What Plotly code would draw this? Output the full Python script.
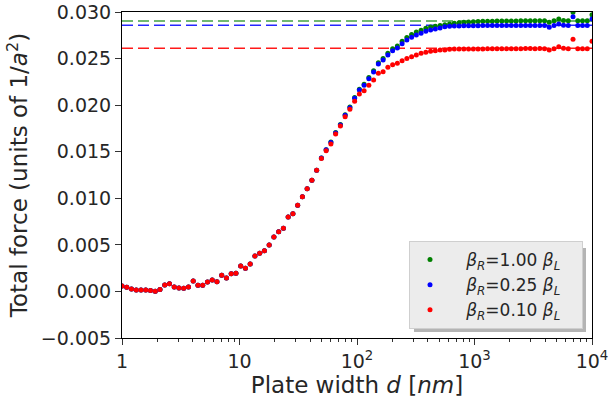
import numpy as np
import plotly.graph_objects as go

# Plate widths d [nm] sampled on a log grid, 1 .. 1e4 (100 points)
plate_width = np.logspace(0, 4, 100)

force_r100 = [
    0.00058, 0.00044, 0.00026, 0.00015, 0.00015, 0.00015, 0.00010, 0.00001, 0.00022, 0.00069,
    0.00083, 0.00047, 0.00036, 0.00033, 0.00047, 0.00112, 0.00065, 0.00065, 0.00100, 0.00122,
    0.00104, 0.00173, 0.00144, 0.00190, 0.00194, 0.00273, 0.00248, 0.00294, 0.00380, 0.00409,
    0.00437, 0.00498, 0.00584, 0.00641, 0.00677, 0.00799, 0.00834, 0.00924, 0.01017, 0.01103,
    0.01193, 0.01300, 0.01433, 0.01522, 0.01603, 0.01705, 0.01792, 0.01897, 0.01979, 0.02081,
    0.02171, 0.02223, 0.02296, 0.02370, 0.02456, 0.02501, 0.02557, 0.02605, 0.02636, 0.02686,
    0.02727, 0.02758, 0.02784, 0.02805, 0.02825, 0.02839, 0.02848, 0.02855, 0.02864, 0.02871,
    0.02878, 0.02885, 0.02889, 0.02893, 0.02896, 0.02898, 0.02900, 0.02901, 0.02902, 0.02903,
    0.02903, 0.02904, 0.02904, 0.02904, 0.02905, 0.02905, 0.02905, 0.02905, 0.02905, 0.02905,
    0.02889, 0.02905, 0.02924, 0.02908, 0.02905, 0.02997, 0.02905, 0.02905, 0.02905, 0.02970,
]

force_r025 = [
    0.00058, 0.00044, 0.00026, 0.00015, 0.00015, 0.00015, 0.00010, 0.00001, 0.00022, 0.00069,
    0.00083, 0.00047, 0.00036, 0.00033, 0.00047, 0.00112, 0.00065, 0.00065, 0.00100, 0.00122,
    0.00104, 0.00173, 0.00144, 0.00190, 0.00194, 0.00273, 0.00248, 0.00294, 0.00380, 0.00409,
    0.00437, 0.00498, 0.00584, 0.00641, 0.00677, 0.00799, 0.00834, 0.00924, 0.01017, 0.01103,
    0.01193, 0.01300, 0.01432, 0.01520, 0.01600, 0.01701, 0.01787, 0.01891, 0.01972, 0.02073,
    0.02162, 0.02213, 0.02284, 0.02356, 0.02441, 0.02484, 0.02538, 0.02584, 0.02613, 0.02660,
    0.02699, 0.02728, 0.02753, 0.02771, 0.02793, 0.02807, 0.02817, 0.02828, 0.02842, 0.02846,
    0.02850, 0.02851, 0.02852, 0.02853, 0.02853, 0.02853, 0.02854, 0.02854, 0.02854, 0.02854,
    0.02854, 0.02855, 0.02855, 0.02855, 0.02855, 0.02855, 0.02855, 0.02855, 0.02855, 0.02855,
    0.02835, 0.02855, 0.02870, 0.02858, 0.02855, 0.02949, 0.02855, 0.02855, 0.02855, 0.02925,
]

force_r010 = [
    0.00058, 0.00044, 0.00026, 0.00015, 0.00015, 0.00015, 0.00010, 0.00001, 0.00022, 0.00069,
    0.00083, 0.00047, 0.00036, 0.00033, 0.00047, 0.00112, 0.00065, 0.00065, 0.00100, 0.00122,
    0.00104, 0.00173, 0.00144, 0.00190, 0.00194, 0.00273, 0.00248, 0.00294, 0.00380, 0.00409,
    0.00437, 0.00498, 0.00584, 0.00641, 0.00677, 0.00799, 0.00834, 0.00924, 0.01017, 0.01103,
    0.01193, 0.01300, 0.01427, 0.01511, 0.01583, 0.01690, 0.01776, 0.01876, 0.01955, 0.02041,
    0.02119, 0.02155, 0.02213, 0.02270, 0.02342, 0.02359, 0.02406, 0.02434, 0.02449, 0.02477,
    0.02500, 0.02520, 0.02538, 0.02556, 0.02567, 0.02578, 0.02584, 0.02592, 0.02592, 0.02599,
    0.02602, 0.02602, 0.02603, 0.02603, 0.02604, 0.02604, 0.02604, 0.02605, 0.02605, 0.02605,
    0.02606, 0.02606, 0.02606, 0.02606, 0.02606, 0.02607, 0.02607, 0.02606, 0.02607, 0.02606,
    0.02592, 0.02606, 0.02627, 0.02610, 0.02605, 0.02707, 0.02606, 0.02606, 0.02606, 0.02685,
]

# Asymptotic (large-d) reference levels
asymptote_levels = [0.02903, 0.02857, 0.02610]
asymptote_x = [1, 10000]

series_names = [
    "<i>β</i><sub><i>R</i></sub>=1.00 <i>β</i><sub><i>L</i></sub>",
    "<i>β</i><sub><i>R</i></sub>=0.25 <i>β</i><sub><i>L</i></sub>",
    "<i>β</i><sub><i>R</i></sub>=0.10 <i>β</i><sub><i>L</i></sub>",
]
marker_colors = ["#008000", "#0000ff", "#ff0000"]
dash_colors = ["rgba(0,128,0,0.75)", "rgba(0,0,255,0.85)", "rgba(255,0,0,0.9)"]

x_tick_vals = [1, 10, 100, 1000, 10000]
x_tick_text = ["1", "10", "10<sup>2</sup>", "10<sup>3</sup>", "10<sup>4</sup>"]
y_tick_vals = [-0.005, 0.0, 0.005, 0.010, 0.015, 0.020, 0.025, 0.030]

NB = "\u00a0"

fig = go.Figure()

for lvl, col in zip(asymptote_levels, dash_colors):
    fig.add_trace(go.Scatter(
        x=asymptote_x, y=[lvl, lvl], mode="lines",
        line=dict(color=col, width=1.5, dash="11px,5px"),
        showlegend=False, hoverinfo="skip",
    ))

for ys, name, col in zip([force_r100, force_r025, force_r010], series_names, marker_colors):
    fig.add_trace(go.Scatter(
        x=plate_width, y=ys, mode="markers", name=NB * 3 + name + NB * 3,
        marker=dict(color=col, size=5, line=dict(width=0)),
        cliponaxis=True,
    ))

minor_vals = [m * 10 ** e for e in range(0, 4) for m in range(2, 10)]

font_family = "DejaVu Sans"
text_color = "#262626"

# plot-area pixel frame (for paper-coordinate conversion of the legend shadow)
PX0, PX1, PY0, PY1 = 122, 592, 12, 338


def px(xp):
    return (xp - PX0) / (PX1 - PX0)


def py(yp):
    return (PY1 - yp) / (PY1 - PY0)


fig.update_layout(
    width=609, height=399,
    margin=dict(l=122, r=17, t=12, b=61, autoexpand=False),
    paper_bgcolor="white", plot_bgcolor="white",
    font=dict(family=font_family, size=19, color=text_color),
    showlegend=True,
    legend=dict(
        x=px(583), y=py(329), xanchor="right", yanchor="bottom",
        bgcolor="#ececec", bordercolor="#cfcfcf", borderwidth=1,
        font=dict(size=17), itemsizing="trace", tracegroupgap=0,
    ),
    xaxis=dict(
        type="log", range=[0, 4], automargin=False,
        tickmode="array", tickvals=x_tick_vals, ticktext=x_tick_text,
        ticks="outside", ticklen=6, tickwidth=1, tickcolor="#333333",
        minor=dict(tickmode="array", tickvals=minor_vals, ticks="outside",
                   ticklen=3, tickwidth=1, tickcolor="#333333", showgrid=False),
        showgrid=False, zeroline=False,
        showline=True, linecolor="black", linewidth=1, mirror=True,
        title=dict(text="Plate width <i>d</i> [<i>nm</i>]", standoff=6),
    ),
    yaxis=dict(
        range=[-0.005, 0.030], automargin=False,
        tickmode="array", tickvals=y_tick_vals, tickformat=".3f",
        ticks="outside", ticklen=6, tickwidth=1, tickcolor="#333333",
        showgrid=False, zeroline=False,
        showline=True, linecolor="black", linewidth=1, mirror=True,
        title=dict(text="Total force (units of 1/<i>a</i><sup>2</sup>)", standoff=6),
    ),
)

# legend drop shadow (offset down-right, hidden under the legend box elsewhere)
fig.add_shape(type="rect", xref="paper", yref="paper",
              x0=px(414), x1=px(586), y0=py(332), y1=py(248),
              fillcolor="#b4b4b4", line=dict(width=0), layer="above")

fig.write_html("out.html")
